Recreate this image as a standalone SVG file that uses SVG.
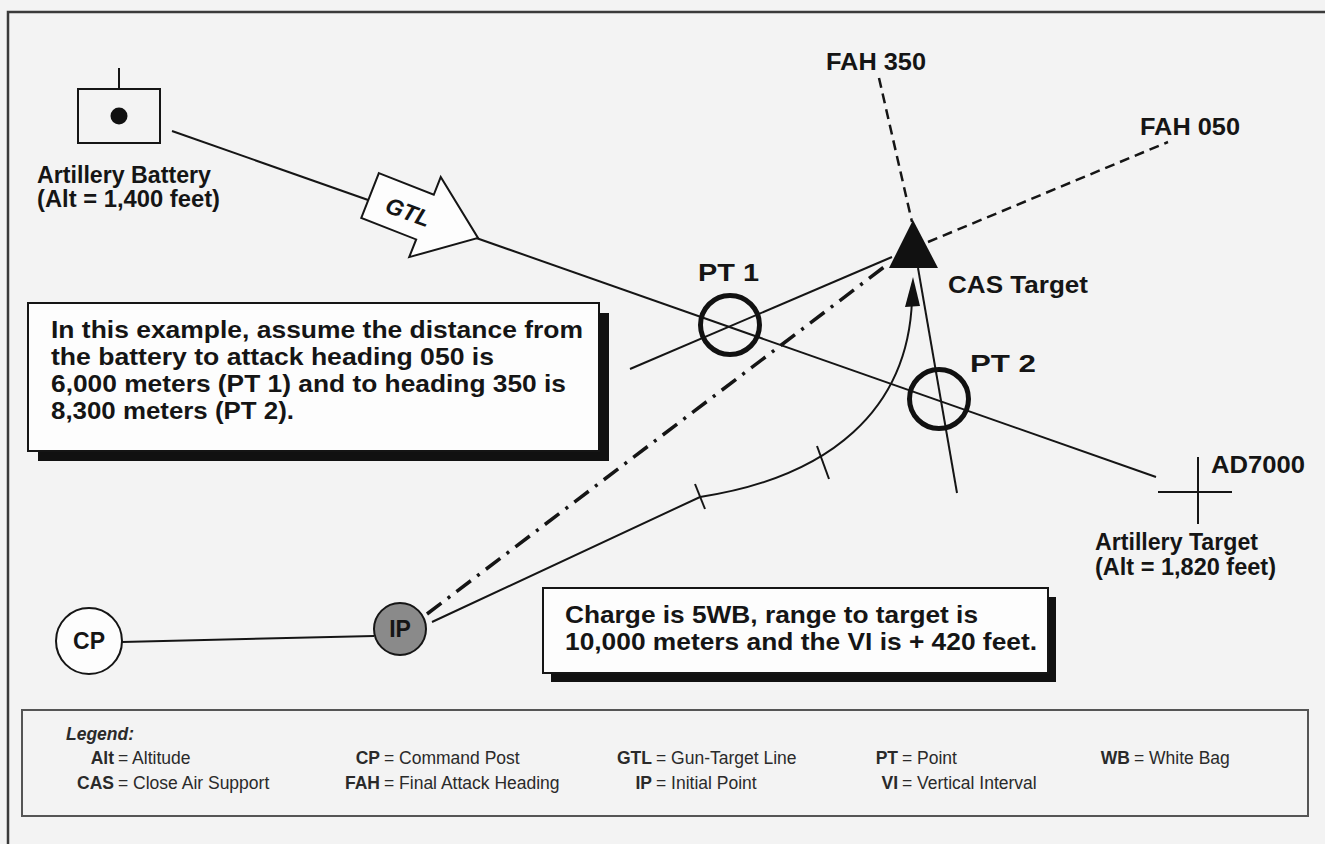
<svg xmlns="http://www.w3.org/2000/svg" width="1325" height="844" viewBox="0 0 1325 844">
<style>
.lbl{font-family:"Liberation Sans",Arial,sans-serif;font-weight:bold;font-size:23px;fill:#151515}
.big{font-family:"Liberation Sans",Arial,sans-serif;font-weight:bold;font-size:24px;fill:#151515}
.box{fill:#fdfdfd;stroke:#151515;stroke-width:2}
.shadow{fill:#111}
.ln{stroke:#151515;stroke-width:2;fill:none}
.dash{stroke:#151515;stroke-width:2.5;stroke-dasharray:10 6;fill:none}
.dashdot{stroke:#151515;stroke-width:3.5;stroke-dasharray:18 8 3 8;fill:none}
.pt{fill:none;stroke:#111;stroke-width:5}
.leg{font-family:"Liberation Sans",Arial,sans-serif;font-size:17.5px;fill:#2a2a2a}
.legb{font-weight:bold}
</style>
<rect x="0" y="0" width="1325" height="844" fill="#f3f3f3"/>
<path d="M8,844 V12 H1325" fill="none" stroke="#3a3a3a" stroke-width="2.5"/>

<g id="connectors">
  <line class="ln" x1="172" y1="131" x2="1156" y2="477"/>
  <line class="ln" x1="630" y1="369" x2="892" y2="257"/>
  <line class="dash" x1="928" y1="242" x2="1168" y2="142"/>
  <line class="dash" x1="879" y1="78" x2="912" y2="222"/>
  <line class="ln" x1="957" y1="493" x2="918" y2="268"/>
  <line class="dashdot" x1="427" y1="614" x2="888" y2="264"/>
  <path class="ln" d="M432,622 L700,497 C830,477 908,410 912,300"/>
  <polygon points="913,277 905,307 920,306" fill="#111"/>
  <line class="ln" x1="695" y1="484" x2="705" y2="509"/>
  <line class="ln" x1="817" y1="446" x2="829" y2="479"/>
  <line class="ln" x1="122" y1="642" x2="374" y2="636"/>
</g>

<g id="battery">
  <line class="ln" x1="119" y1="68" x2="119" y2="89"/>
  <rect x="78" y="89" width="82" height="54" fill="none" stroke="#151515" stroke-width="2"/>
  <circle cx="119" cy="116" r="8.5" fill="#111"/>
  <text class="lbl" x="37" y="183" textLength="174" lengthAdjust="spacingAndGlyphs">Artillery Battery</text>
  <text class="lbl" x="37" y="207" textLength="183" lengthAdjust="spacingAndGlyphs">(Alt = 1,400 feet)</text>
</g>

<g id="gtl-arrow">
  <polygon transform="translate(478,238) rotate(21.5)" points="-116,-24 -57,-24 -57,-43 0,0 -57,43 -57,24 -116,24" fill="#fdfdfd" stroke="#151515" stroke-width="2"/>
  <text class="lbl" x="408" y="220" text-anchor="middle" font-size="21" font-style="italic" transform="rotate(20 408 212)">GTL</text>
</g>

<g id="cas-target">
  <polygon points="913,220 889,268 938,268" fill="#111"/>
  <text class="lbl" x="948" y="293" textLength="140" lengthAdjust="spacingAndGlyphs">CAS Target</text>
</g>

<g id="fah350">
  <text class="lbl" x="826" y="70" textLength="100" lengthAdjust="spacingAndGlyphs">FAH 350</text>
</g>
<g id="fah050">
  <text class="lbl" x="1140" y="135" textLength="100" lengthAdjust="spacingAndGlyphs">FAH 050</text>
</g>

<g id="pt1">
  <circle class="pt" cx="730" cy="325" r="29.5"/>
  <text class="lbl" x="698" y="281" font-size="25" textLength="61" lengthAdjust="spacingAndGlyphs">PT 1</text>
</g>
<g id="pt2">
  <circle class="pt" cx="939" cy="399" r="29.5"/>
  <text class="lbl" x="970" y="372" font-size="25" textLength="66" lengthAdjust="spacingAndGlyphs">PT 2</text>
</g>

<g id="artillery-target">
  <line class="ln" x1="1198" y1="457" x2="1198" y2="524"/>
  <line class="ln" x1="1158" y1="492" x2="1232" y2="492"/>
  <text class="lbl" x="1211" y="473" textLength="94" lengthAdjust="spacingAndGlyphs">AD7000</text>
  <text class="lbl" x="1095" y="550" textLength="163" lengthAdjust="spacingAndGlyphs">Artillery Target</text>
  <text class="lbl" x="1095" y="575" textLength="181" lengthAdjust="spacingAndGlyphs">(Alt = 1,820 feet)</text>
</g>

<g id="cp">
  <circle cx="89" cy="641" r="33" fill="#fdfdfd" stroke="#151515" stroke-width="2"/>
  <text class="lbl" x="89" y="649" font-size="21" text-anchor="middle">CP</text>
</g>
<g id="ip">
  <circle cx="400" cy="629" r="26" fill="#8a8a8a" stroke="#151515" stroke-width="2"/>
  <text class="lbl" x="400" y="637" font-size="21" text-anchor="middle">IP</text>
</g>

<g id="note1">
  <rect class="shadow" x="38" y="313" width="571" height="148"/>
  <rect class="box" x="28" y="303" width="571" height="148"/>
  <text class="big" x="51" y="338" textLength="532" lengthAdjust="spacingAndGlyphs">In this example, assume the distance from</text>
  <text class="big" x="51" y="365" textLength="443" lengthAdjust="spacingAndGlyphs">the battery to attack heading 050 is</text>
  <text class="big" x="51" y="392" textLength="515" lengthAdjust="spacingAndGlyphs">6,000 meters (PT 1) and to heading 350 is</text>
  <text class="big" x="51" y="419" textLength="243" lengthAdjust="spacingAndGlyphs">8,300 meters (PT 2).</text>
</g>

<g id="note2">
  <rect class="shadow" x="551" y="597" width="505" height="85"/>
  <rect class="box" x="543" y="588" width="505" height="85"/>
  <text class="big" x="565" y="623" textLength="413" lengthAdjust="spacingAndGlyphs">Charge is 5WB, range to target is</text>
  <text class="big" x="565" y="650" textLength="472" lengthAdjust="spacingAndGlyphs">10,000 meters and the VI is + 420 feet.</text>
</g>

<g id="legend">
  <rect x="22" y="710" width="1286" height="106" fill="none" stroke="#555" stroke-width="2"/>
  <text class="leg legb" x="66" y="740" font-size="19" font-style="italic" fill="#151515">Legend:</text>
  <g class="leg">
    <text x="114" y="764" text-anchor="end" class="legb">Alt</text><text x="118" y="764">= Altitude</text>
    <text x="114" y="789" text-anchor="end" class="legb">CAS</text><text x="118" y="789">= Close Air Support</text>
    <text x="380" y="764" text-anchor="end" class="legb">CP</text><text x="384" y="764">= Command Post</text>
    <text x="380" y="789" text-anchor="end" class="legb">FAH</text><text x="384" y="789">= Final Attack Heading</text>
    <text x="652" y="764" text-anchor="end" class="legb">GTL</text><text x="656" y="764">= Gun-Target Line</text>
    <text x="652" y="789" text-anchor="end" class="legb">IP</text><text x="656" y="789">= Initial Point</text>
    <text x="898" y="764" text-anchor="end" class="legb">PT</text><text x="902" y="764">= Point</text>
    <text x="898" y="789" text-anchor="end" class="legb">VI</text><text x="902" y="789">= Vertical Interval</text>
    <text x="1130" y="764" text-anchor="end" class="legb">WB</text><text x="1134" y="764">= White Bag</text>
  </g>
</g>
</svg>
